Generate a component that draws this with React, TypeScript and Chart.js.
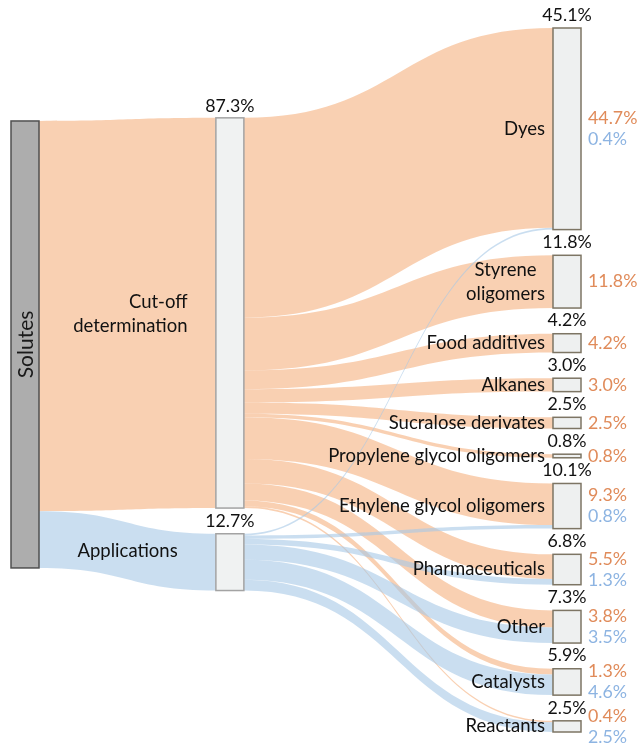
import React, { useEffect, useRef } from 'react';
import { Chart, registerables } from 'chart.js';

Chart.register(...registerables);

// ---------- data ----------
const sourceNode = 'Solutes';
const stageNodes = ['Cut-off\ndetermination', 'Applications'];
const stageValues = [87.3, 12.7];
const targetNodes = [
  'Dyes',
  'Styrene\noligomers',
  'Food additives',
  'Alkanes',
  'Sucralose derivates',
  'Propylene glycol oligomers',
  'Ethylene glycol oligomers',
  'Pharmaceuticals',
  'Other',
  'Catalysts',
  'Reactants',
];
const targetTotals = [45.1, 11.8, 4.2, 3.0, 2.5, 0.8, 10.1, 6.8, 7.3, 5.9, 2.5];
const cutoffFlows = [44.7, 11.8, 4.2, 3.0, 2.5, 0.8, 9.3, 5.5, 3.8, 1.3, 0.4];
const applicationFlows = [0.4, 0, 0, 0, 0, 0, 0.8, 1.3, 3.5, 4.6, 2.5];

// ---------- layout / style ----------
const COLUMN_X = [0, 0.378, 1];
const COLUMN_TOP = [20.8, 20.1, 0];
const NODE_GAP = 5.75;
const NODE_W = 28;
const FONT = 'Lato, "Open Sans", sans-serif';
const LABEL_FONT = `18.5px ${FONT}`;
const PCT_FONT = `17.8px ${FONT}`;
const ORANGE_FLOW = 'rgba(245,177,127,0.6)';
const BLUE_FLOW = 'rgba(167,200,230,0.6)';
const ORANGE_TEXT = '#e08b5a';
const BLUE_TEXT = '#8db4e2';
const STAGE_LABEL_T = [0.84, 0.784];

const fmt = (v: number) => v.toFixed(1) + '%';

function flowPath(ctx: CanvasRenderingContext2D, x0: number, a0: number, b0: number, x1: number, a1: number, b1: number, color: string) {
  const xm = (x0 + x1) / 2;
  ctx.beginPath();
  ctx.moveTo(x0, a0);
  ctx.bezierCurveTo(xm, a0, xm, a1, x1, a1);
  ctx.lineTo(x1, b1);
  ctx.bezierCurveTo(xm, b1, xm, b0, x0, b0);
  ctx.closePath();
  ctx.fillStyle = color;
  ctx.fill();
}

const sankeyPlugin = {
  id: 'sankeyDraw',
  afterDatasetsDraw(chart: any) {
    const ctx: CanvasRenderingContext2D = chart.ctx;
    const xs = chart.scales.x;
    const ys = chart.scales.y;
    const py = (v: number) => ys.getPixelForValue(v);
    const px = (v: number) => xs.getPixelForValue(v);

    const srcTop = COLUMN_TOP[0];
    const srcBottom = srcTop + stageValues.reduce((a, b) => a + b, 0);
    const stageTop: number[] = [];
    let acc = COLUMN_TOP[1];
    stageValues.forEach((v) => {
      stageTop.push(acc);
      acc += v + NODE_GAP;
    });
    const tgtTop: number[] = [];
    acc = COLUMN_TOP[2];
    targetTotals.forEach((v) => {
      tgtTop.push(acc);
      acc += v + NODE_GAP;
    });

    const xL = px(COLUMN_X[0]);
    const xM = px(COLUMN_X[1]);
    const xR = px(COLUMN_X[2]);

    ctx.save();
    let sOff = srcTop;
    const stageColors = [ORANGE_FLOW, BLUE_FLOW];
    stageValues.forEach((v, i) => {
      flowPath(ctx, xL + NODE_W, py(sOff), py(sOff + v), xM, py(stageTop[i]), py(stageTop[i] + v), stageColors[i]);
      sOff += v;
    });

    const stageFlows = [cutoffFlows, applicationFlows];
    const tgtIn = targetTotals.map((_, j) => cutoffFlows[j] + applicationFlows[j]);
    const tgtOff = tgtTop.slice();
    const segs: any[] = [];
    stageFlows.forEach((flows, i) => {
      const sum = flows.reduce((a, b) => a + b, 0);
      const k = stageValues[i] / sum;
      let off = stageTop[i];
      flows.forEach((v, j) => {
        if (v <= 0) return;
        const kt = targetTotals[j] / tgtIn[j];
        segs.push({ i, a0: off, b0: off + v * k, a1: tgtOff[j], b1: tgtOff[j] + v * kt });
        off += v * k;
        tgtOff[j] += v * kt;
      });
    });
    segs.forEach((s) => {
      flowPath(ctx, xM + NODE_W, py(s.a0), py(s.b0), xR, py(s.a1), py(s.b1), stageColors[s.i]);
    });

    // nodes
    ctx.lineWidth = 1.5;
    ctx.fillStyle = '#adadad';
    ctx.strokeStyle = '#505050';
    ctx.fillRect(xL, py(srcTop), NODE_W, py(srcBottom) - py(srcTop));
    ctx.strokeRect(xL, py(srcTop), NODE_W, py(srcBottom) - py(srcTop));
    stageValues.forEach((v, i) => {
      ctx.fillStyle = '#f0f2f2';
      ctx.strokeStyle = '#a3a3a3';
      ctx.fillRect(xM, py(stageTop[i]), NODE_W, py(stageTop[i] + v) - py(stageTop[i]));
      ctx.strokeRect(xM, py(stageTop[i]), NODE_W, py(stageTop[i] + v) - py(stageTop[i]));
    });
    targetTotals.forEach((v, j) => {
      ctx.fillStyle = '#eef0f0';
      ctx.strokeStyle = '#7d7564';
      ctx.fillRect(xR, py(tgtTop[j]), NODE_W, py(tgtTop[j] + v) - py(tgtTop[j]));
      ctx.strokeRect(xR, py(tgtTop[j]), NODE_W, py(tgtTop[j] + v) - py(tgtTop[j]));
    });

    // text
    ctx.textBaseline = 'middle';
    ctx.save();
    ctx.translate(xL + NODE_W / 2, (py(srcTop) + py(srcBottom)) / 2);
    ctx.rotate(-Math.PI / 2);
    ctx.font = `21px ${FONT}`;
    ctx.fillStyle = '#1a1a1a';
    ctx.textAlign = 'center';
    ctx.fillText(sourceNode, 0, 1);
    ctx.restore();

    ctx.fillStyle = '#111';
    let so = srcTop;
    stageNodes.forEach((name, i) => {
      const v = stageValues[i];
      const t = STAGE_LABEL_T[i];
      const x0 = xL + NODE_W;
      const x = x0 + (xM - x0) * t;
      const yc = (py(so + v / 2) + py(stageTop[i] + v / 2)) / 2;
      const lines = name.split('\n');
      ctx.font = LABEL_FONT;
      ctx.textAlign = 'right';
      lines.forEach((ln, k) => {
        ctx.fillText(ln, x, yc + (k - (lines.length - 1) / 2) * 24);
      });
      so += v;
      ctx.font = PCT_FONT;
      ctx.textAlign = 'center';
      ctx.fillText(fmt(v), xM + NODE_W / 2, py(stageTop[i]) - 12);
    });

    targetNodes.forEach((name, j) => {
      const top = py(tgtTop[j]);
      const bot = py(tgtTop[j] + targetTotals[j]);
      const yc = (top + bot) / 2;
      ctx.fillStyle = '#111';
      ctx.textAlign = 'center';
      ctx.font = PCT_FONT;
      ctx.fillText(fmt(targetTotals[j]), xR + NODE_W / 2, top - 13);
      ctx.font = LABEL_FONT;
      const lines = name.split('\n');
      const maxW = Math.max(...lines.map((l) => ctx.measureText(l).width));
      const cx = xR - 8 - maxW / 2;
      lines.forEach((ln, k) => {
        ctx.fillText(ln, cx, yc + (k - (lines.length - 1) / 2) * 24);
      });
      const parts: [string, string][] = [];
      if (cutoffFlows[j] > 0) parts.push([fmt(cutoffFlows[j]), ORANGE_TEXT]);
      if (applicationFlows[j] > 0) parts.push([fmt(applicationFlows[j]), BLUE_TEXT]);
      ctx.textAlign = 'left';
      ctx.font = PCT_FONT;
      parts.forEach(([txt, col], k) => {
        ctx.fillStyle = col;
        ctx.fillText(txt, xR + NODE_W + 7, yc + (k - (parts.length - 1) / 2) * 21);
      });
    });
    ctx.restore();
  },
};

export default function App() {
  const ref = useRef<HTMLCanvasElement | null>(null);
  useEffect(() => {
    if (!ref.current) return;
    const chart = new Chart(ref.current, {
      type: 'scatter',
      data: {
        datasets: [
          {
            data: [
              { x: COLUMN_X[0], y: COLUMN_TOP[0] },
              { x: COLUMN_X[1], y: COLUMN_TOP[1] },
              { x: COLUMN_X[2], y: COLUMN_TOP[2] },
            ],
            pointRadius: 0,
            pointHoverRadius: 0,
          },
        ],
      },
      options: {
        responsive: false,
        animation: false,
        events: [],
        layout: { padding: { left: 11, right: 85, top: 28, bottom: 13 } },
        plugins: { legend: { display: false }, tooltip: { enabled: false } },
        scales: {
          x: { type: 'linear', display: false, min: 0, max: 1 },
          y: { type: 'linear', display: false, reverse: true, min: 0, max: 100 + 10 * NODE_GAP },
        },
      },
      plugins: [sankeyPlugin],
    });
    return () => chart.destroy();
  }, []);
  return (
    <div style={{ position: 'absolute', left: 0, top: 0, width: 638, height: 745 }}>
      <canvas ref={ref} width={638} height={745} />
    </div>
  );
}
